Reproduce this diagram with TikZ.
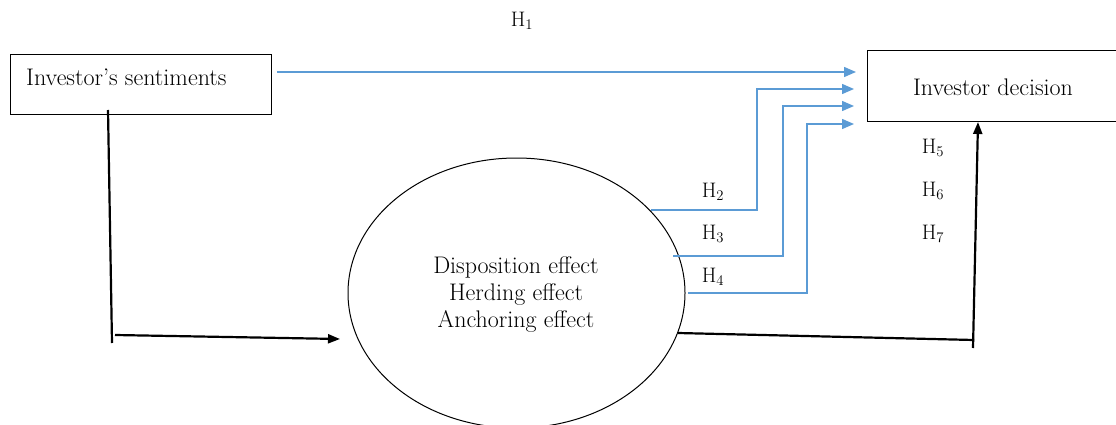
\documentclass[tikz,border=0pt]{standalone}
\usetikzlibrary{shapes.geometric,arrows.meta}
\definecolor{hblue}{RGB}{91,155,213}
\begin{document}
\begin{tikzpicture}[x=1pt,y=-1pt,
  txt/.style={font=\fontsize{24}{27}\selectfont, inner sep=0pt},
  hlab/.style={font=\fontsize{21}{24}\selectfont, inner sep=0pt},
  boxshape/.style={draw, line width=1pt, inner sep=0pt},
  bluearr/.style={draw=hblue, line width=1.5pt, -{Triangle[length=12pt,width=10pt]}},
  blackline/.style={line width=2.2pt},
  blackarr/.style={line width=2.2pt, -{Triangle[length=12pt,width=9pt]}}]
\useasboundingbox (0,0) rectangle (1116,425);
\clip (0,0) rectangle (1116,425);

% nodes
\node[boxshape, minimum width=261pt, minimum height=60pt] (sent) at (140.5,85) {};
\node[txt, anchor=west] (senttxt) at (26,77) {Investor’s sentiments};
\node[boxshape, minimum width=262pt, minimum height=71pt] (dec) at (998,86.5) {};
\node[txt] (dectxt) at (993,87) {Investor decision};
\node[boxshape, ellipse, minimum width=337pt, minimum height=270pt] (eff) at (516.5,293) {};
\node[txt, align=center] (efftxt) at (516,295) {Disposition effect\\Herding effect\\Anchoring effect};

% labels
\node[hlab] (h1) at (522,21) {H\textsubscript{1}};
\node[hlab] (h2) at (713,192) {H\textsubscript{2}};
\node[hlab] (h3) at (713,234) {H\textsubscript{3}};
\node[hlab] (h4) at (713,277) {H\textsubscript{4}};
\node[hlab] (h5) at (933,148) {H\textsubscript{5}};
\node[hlab] (h6) at (933,191) {H\textsubscript{6}};
\node[hlab] (h7) at (933,234) {H\textsubscript{7}};

% connector end points
\coordinate (a1) at (277,72);  \coordinate (b1) at (856,72);
\coordinate (a2) at (651,210); \coordinate (b2) at (854,89);
\coordinate (a3) at (673,256); \coordinate (b3) at (854,106);
\coordinate (a4) at (688,293); \coordinate (b4) at (854,124);
\coordinate (s1) at (108,110); \coordinate (s2) at (112,343);
\coordinate (s3) at (115,335); \coordinate (s4) at (340,339);
\coordinate (e1) at (678,333); \coordinate (e2) at (974,340);
\coordinate (e3) at (973,348); \coordinate (e4) at (978,122);

% blue connectors
\draw[bluearr] (a1) -- (b1);
\draw[bluearr] (a2) -- (757,210) -- (757,89) -- (b2);
\draw[bluearr] (a3) -- (783,256) -- (783,106) -- (b3);
\draw[bluearr] (a4) -- (807,293) -- (807,124) -- (b4);

% black connectors
\draw[blackline] (s1) -- (s2);
\draw[blackarr] (s3) -- (s4);
\draw[blackline] (e1) -- (e2);
\draw[blackarr] (e3) -- (e4);
\end{tikzpicture}
\end{document}
